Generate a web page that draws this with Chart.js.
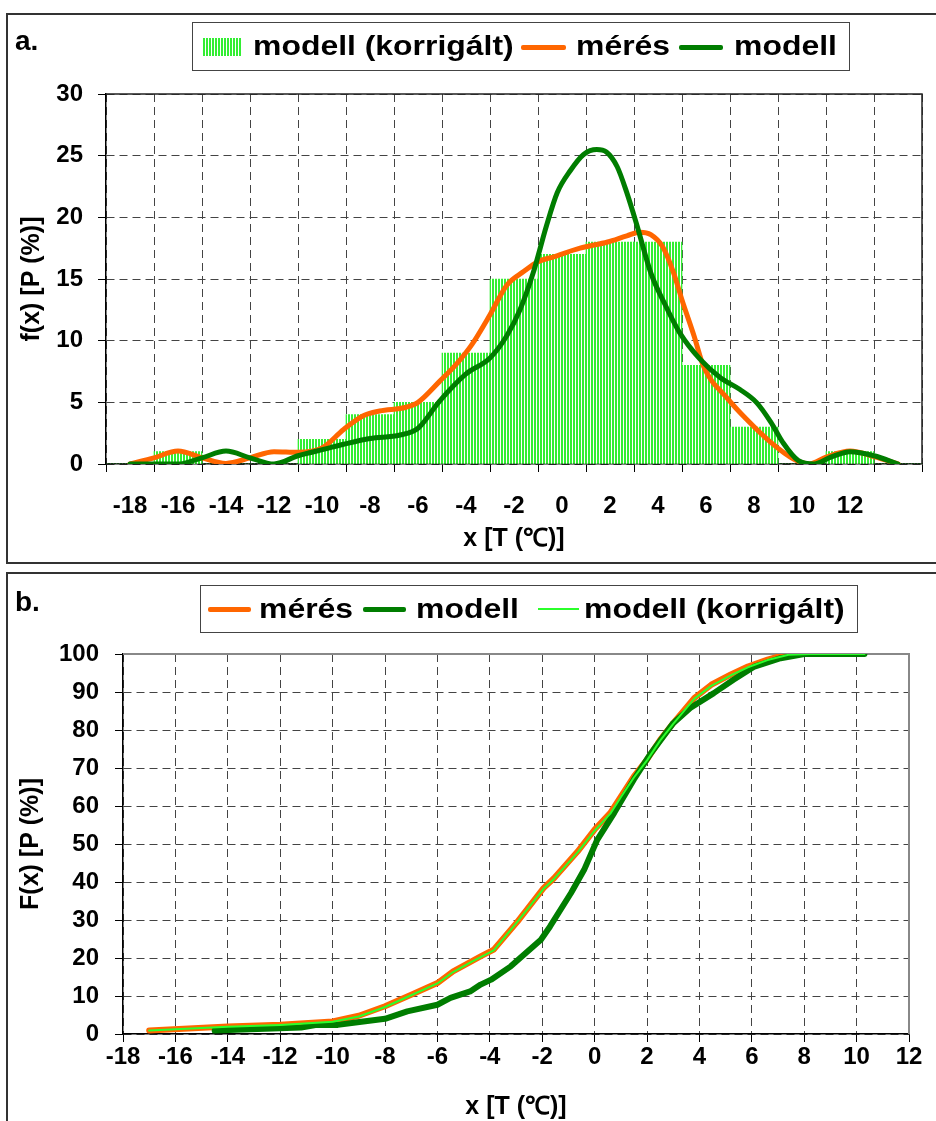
<!DOCTYPE html>
<html lang="hu">
<head>
<meta charset="UTF-8">
<title>Hőmérséklet eloszlás</title>
<script src="https://cdn.jsdelivr.net/npm/chart.js"></script>
<style>
  body {
    margin: 0;
    width: 936px;
    height: 1121px;
    overflow: hidden;
    position: relative;
    background: #fff;
    font-family: 'Liberation Sans', Arial, sans-serif;
    color: #000;
  }
  .wrap { position: absolute; left: 0; width: 936px; height: 560px; }
  .frame { position: absolute; border: 2px solid #333; box-sizing: border-box; pointer-events: none; }
  .tag { position: absolute; font-weight: bold; font-size: 28px; line-height: 28px; }
  .legend { position: absolute; border: 1px solid #444; background: #fff; box-sizing: border-box; }
  .legend span { position: absolute; }
  .legend .txt { font-weight: bold; font-size: 28px; line-height: 28px; transform: scaleX(1.14); transform-origin: left center; white-space: nowrap; }
  .hatch { background: repeating-linear-gradient(90deg, #33ee33 0 2px, #fff 2px 3px); }
</style>
</head>
<body>

<div class="wrap" style="top:0"><canvas id="chartA"></canvas></div>
<div class="wrap" style="top:570px"><canvas id="chartB"></canvas></div>

<div class="frame" style="left:6px; top:13px; width:940px; height:551px"></div>
<div class="frame" style="left:6px; top:572px; width:940px; height:560px"></div>

<div class="tag" style="left:15px; top:27px">a.</div>
<div class="tag" style="left:15px; top:588px">b.</div>

<div class="legend" style="left:192px; top:22px; width:658px; height:49px">
  <span class="hatch" style="left:10px; top:15px; width:39px; height:18px"></span>
  <span class="txt" style="left:60px; top:9px">modell (korrigált)</span>
  <span style="left:328px; top:22px; width:45px; height:5px; background:#ff6600; border-radius:2px"></span>
  <span class="txt" style="left:383px; top:9px">mérés</span>
  <span style="left:486px; top:22px; width:44px; height:5px; background:#007d00; border-radius:2px"></span>
  <span class="txt" style="left:541px; top:9px">modell</span>
</div>

<div class="legend" style="left:200px; top:585px; width:658px; height:48px">
  <span style="left:7px; top:21px; width:43px; height:5px; background:#ff6600; border-radius:2px"></span>
  <span class="txt" style="left:58px; top:9px">mérés</span>
  <span style="left:162px; top:21px; width:43px; height:5px; background:#007d00; border-radius:2px"></span>
  <span class="txt" style="left:215px; top:9px">modell</span>
  <span style="left:337px; top:22px; width:41px; height:2px; background:#2bff2b"></span>
  <span class="txt" style="left:383px; top:9px">modell (korrigált)</span>
</div>

<script>
// ---- a. sűrűségfüggvény ----
const binLabels = ['-18', '-16', '-14', '-12', '-10', '-8', '-6', '-4', '-2', '0', '2', '4', '6', '8', '10', '12', ''];
const binCounts = [0, 1, 0, 0, 2, 4, 5, 9, 15, 17, 18, 18, 8, 3, 0, 1, 0];

const measX = [-18, -17, -16, -15, -14, -13, -12, -11, -10, -9.1, -8.3, -7.6, -6.5, -6, -5.1, -4.4, -3.75, -3, -2.3, -1.6, -1, -0.35, 0.75, 1.9, 2.7, 3.25, 3.7, 4.2, 4.65, 5, 5.5, 5.9, 6.9, 7.7, 8.7, 9.65, 10.3, 11, 12, 13, 14];
const measY = [0, 0.5, 1.05, 0.5, 0.05, 0.5, 1, 0.95, 1.3, 2.8, 3.9, 4.3, 4.6, 5, 6.7, 8.1, 9.7, 12.1, 14.5, 15.6, 16.4, 16.8, 17.5, 18, 18.5, 18.8, 18.6, 17.6, 15.5, 13.3, 10.4, 7.9, 5.3, 3.6, 1.75, 0.4, 0, 0.55, 1.05, 0.6, 0];

const modelX = [-18, -16, -15, -14, -13, -12, -11, -9.9, -9.1, -8, -6.75, -6, -5.1, -4, -3, -2.3, -1.75, -1.2, -0.65, -0.2, 0.35, 0.9, 1.45, 1.85, 2.3, 2.7, 3.1, 3.7, 4.25, 4.9, 5.75, 6.6, 7.4, 8.1, 8.7, 9.2, 9.85, 10.5, 11.2, 12, 13, 14];
const modelY = [0, 0, 0.5, 1.05, 0.5, 0, 0.67, 1.2, 1.6, 2.07, 2.35, 2.9, 5.1, 7.3, 8.6, 10.4, 12.5, 15.5, 19.3, 22, 23.8, 25.1, 25.5, 25.3, 24.1, 22, 19.5, 15.5, 13.1, 10.65, 8.5, 7, 6.06, 5, 3.4, 1.75, 0.27, 0, 0.55, 1, 0.67, 0];

// ---- b. eloszlásfüggvény ----
const measCdfX = [-17, -14, -12, -10, -9, -8, -7, -6, -5.4, -4.7, -4.35, -3.85, -2.95, -1.95, -1.55, -0.65, 0, 0.6, 1, 1.5, 2, 2.5, 3, 3.8, 4.45, 5.2, 5.85, 6.6, 7.25, 7.6];
const measCdfY = [0.95, 2, 2.45, 3.3, 4.8, 7.3, 10.3, 13.4, 16.5, 19.1, 20.4, 22.2, 29.5, 38.4, 41, 48, 53.8, 58.2, 62.5, 67.8, 72.2, 77.4, 81.8, 88.4, 91.9, 94.6, 96.7, 98.5, 99.8, 100];

const modelCdfX = [-14.5, -11.2, -10.6, -9.8, -9.05, -8, -7.15, -6, -5.5, -4.75, -4.35, -3.95, -3.2, -2.05, -1.7, -0.9, -0.4, 0.1, 0.75, 1.5, 2.15, 3, 3.65, 4.55, 5.3, 6.1, 7.1, 8, 10.3];
const modelCdfY = [0.9, 1.7, 2.4, 2.4, 3.1, 4, 5.95, 7.7, 9.5, 11.2, 13, 14.3, 17.8, 24.8, 28.3, 37.1, 43.2, 51.1, 58.2, 67, 73.9, 81.8, 85.8, 89.7, 93.2, 96.7, 98.9, 100, 100];

const corrCdfX = [-17, -14, -12, -10, -9, -8, -7, -6, -5.4, -4.7, -3.85, -2.95, -1.95, -1.55, -0.65, 0, 0.6, 1, 1.5, 2, 2.5, 3, 3.8, 4.45, 5.2, 5.85, 6.6, 7.4, 8.2, 10.3];
const corrCdfY = [0.9, 1.9, 2.4, 3.2, 4.6, 7.1, 10.2, 13.3, 16.3, 19, 22, 29.5, 38.2, 40.8, 47.8, 53.5, 58, 62.3, 67.5, 72, 77.2, 81.6, 88.2, 91.6, 94.4, 96.5, 98.4, 99.8, 100, 100];

const pairs = (xs, ys) => xs.map((x, i) => ({ x: x, y: ys[i] }));

const ORANGE = '#ff6600';
const DARK = '#007d00';
const LIGHT = '#2bff2b';
const FONT = "'Liberation Sans', Arial, sans-serif";

function stripes() {
  const c = document.createElement('canvas');
  c.width = 3; c.height = 4;
  const g = c.getContext('2d');
  g.fillStyle = '#ffffff'; g.fillRect(0, 0, 3, 4);
  g.fillStyle = '#33ee33'; g.fillRect(0, 0, 2, 4);
  return g.createPattern(c, 'repeat');
}

// keret a rajzterület tetején és jobb oldalán
const plotFrame = {
  id: 'plotFrame',
  beforeDatasetsDraw(chart, args, opts) {
    const { ctx, chartArea: a } = chart;
    ctx.save();
    ctx.strokeStyle = opts.color;
    ctx.lineWidth = opts.width;
    ctx.beginPath();
    ctx.moveTo(a.left, a.top);
    ctx.lineTo(a.right, a.top);
    ctx.lineTo(a.right, a.bottom);
    ctx.stroke();
    ctx.restore();
  }
};

const tickFont = { family: FONT, size: 24, weight: 'bold' };
const titleFont = { family: FONT, size: 25, weight: 'bold' };
const gridOpts = { color: '#444', tickColor: '#000', tickLength: 8, tickBorderDash: [] };
const borderOpts = { color: '#000', width: 1.5, dash: [8, 5] };

new Chart(document.getElementById('chartA'), {
  type: 'bar',
  data: {
    labels: binLabels,
    datasets: [
      { type: 'line', label: 'modell', data: pairs(modelX, modelY), xAxisID: 'x2',
        borderColor: DARK, borderWidth: 5, pointRadius: 0, cubicInterpolationMode: 'monotone',
        borderCapStyle: 'round', borderJoinStyle: 'round', order: 0 },
      { type: 'line', label: 'mérés', data: pairs(measX, measY), xAxisID: 'x2',
        borderColor: ORANGE, borderWidth: 5, pointRadius: 0, cubicInterpolationMode: 'monotone',
        borderCapStyle: 'round', borderJoinStyle: 'round', order: 1 },
      { label: 'modell (korrigált)', data: binCounts, backgroundColor: stripes(),
        borderWidth: 0, barPercentage: 1, categoryPercentage: 1, grouped: false, order: 2 }
    ]
  },
  options: {
    animation: false,
    responsive: true,
    maintainAspectRatio: false,
    layout: { padding: { left: 13, top: 94, right: 14, bottom: 2 } },
    plugins: {
      legend: { display: false },
      tooltip: { enabled: false },
      plotFrame: { color: '#222', width: 1.5 }
    },
    scales: {
      x: {
        type: 'category',
        offset: true,
        grid: Object.assign({ offset: true }, gridOpts),
        border: borderOpts,
        ticks: { font: tickFont, color: '#000', padding: 20, maxRotation: 0, autoSkip: false },
        title: { display: true, text: 'x [T (℃)]', font: titleFont, color: '#000', padding: { top: 0, bottom: 4 } },
        afterFit: s => { s.height = 94; }
      },
      x2: { type: 'linear', min: -19, max: 15, offset: false, grid: { offset: false }, display: false },
      y: {
        min: 0, max: 30,
        grid: gridOpts,
        border: borderOpts,
        ticks: { stepSize: 5, font: tickFont, color: '#000', padding: 15 },
        title: { display: true, text: 'f(x) [P (%)]', font: titleFont, color: '#000', padding: { top: 4, bottom: 0 } },
        afterFit: s => { s.width = 93; }
      }
    }
  },
  plugins: [plotFrame]
});

new Chart(document.getElementById('chartB'), {
  type: 'line',
  data: {
    datasets: [
      { label: 'modell (korrigált)', data: pairs(corrCdfX, corrCdfY), borderColor: LIGHT, borderWidth: 2, order: 0 },
      { label: 'modell', data: pairs(modelCdfX, modelCdfY), borderColor: DARK, borderWidth: 6, order: 1 },
      { label: 'mérés', data: pairs(measCdfX, measCdfY), borderColor: ORANGE, borderWidth: 6, order: 2 }
    ]
  },
  options: {
    animation: false,
    responsive: true,
    maintainAspectRatio: false,
    elements: { point: { radius: 0 }, line: { tension: 0, borderJoinStyle: 'round', borderCapStyle: 'round' } },
    layout: { padding: { left: 12, top: 84, right: 27, bottom: 4 } },
    plugins: {
      legend: { display: false },
      tooltip: { enabled: false },
      plotFrame: { color: '#888', width: 2 }
    },
    scales: {
      x: {
        type: 'linear', min: -18, max: 12,
        grid: gridOpts,
        border: borderOpts,
        ticks: { stepSize: 2, font: tickFont, color: '#000', padding: 1, maxRotation: 0 },
        title: { display: true, text: 'x [T (℃)]', font: titleFont, color: '#000', padding: { top: 0, bottom: 4 } },
        afterFit: s => { s.height = 92; }
      },
      y: {
        min: 0, max: 100,
        grid: gridOpts,
        border: borderOpts,
        ticks: { stepSize: 10, font: tickFont, color: '#000', padding: 16 },
        title: { display: true, text: 'F(x) [P (%)]', font: titleFont, color: '#000', padding: { top: 4, bottom: 0 } },
        afterFit: s => { s.width = 111; }
      }
    }
  },
  plugins: [plotFrame]
});
</script>
</body>
</html>
